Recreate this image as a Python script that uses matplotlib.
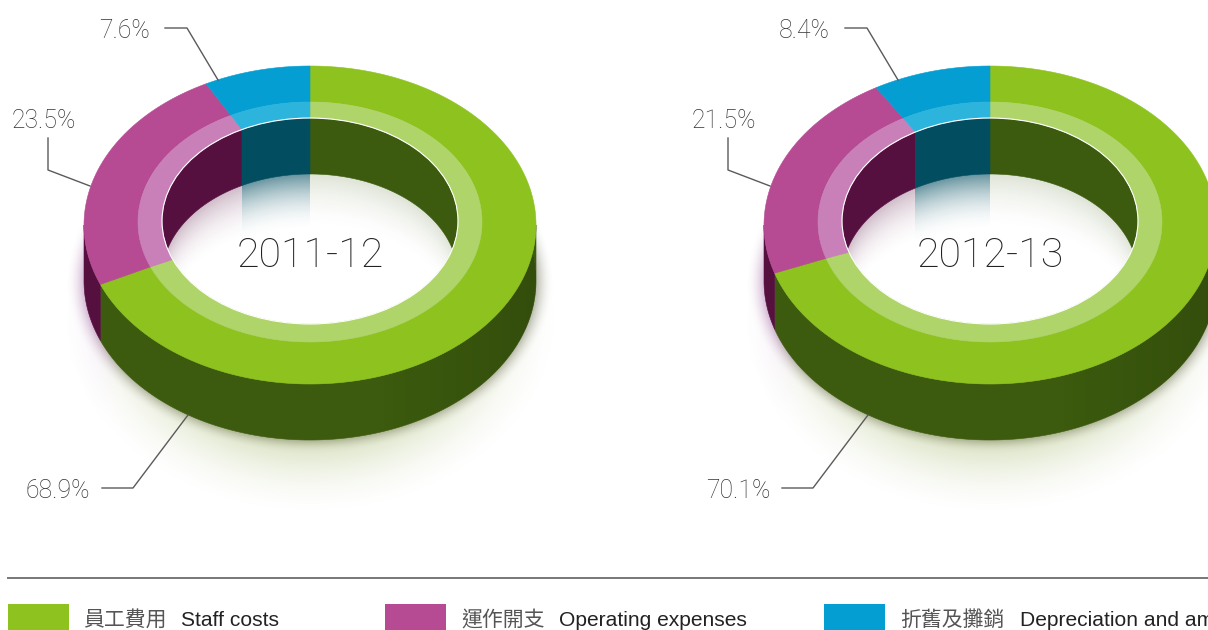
import numpy as np
import matplotlib
matplotlib.use('Agg')
import matplotlib.pyplot as plt
from matplotlib.patches import Polygon, Ellipse, Rectangle

plt.rcParams['font.family'] = ['Liberation Sans', 'Noto Sans CJK TC']

years = ['2011-12', '2012-13']
staff_costs = [68.9, 70.1]
operating_expenses = [23.5, 21.5]
depreciation = [7.6, 8.4]

names_zh = ['員工費用', '運作開支', '折舊及攤銷']
names_en = ['Staff costs', 'Operating expenses', 'Depreciation and amortisation']

# face, pale ring, outer wall, inner wall, hole shadow strength
face = ['#8dc21f', '#b64b94', '#049ed2']
ring = ['#afd469', '#c980b8', '#2cb4dc']
wall = ['#3c5b0e', '#55103f', '#024d60']
hole_fade = [0.17, 0.28, 0.6]

centers = [310, 990]
CY = 225
DEPTH = 56
RX, RY = 226, 159
RING_RX, RING_RY, RING_CY = 172, 120, 222
HOLE_RX, HOLE_RY, HOLE_CY = 148, 103, 221


def arc(cx, cy, rx, ry, a0, a1):
    # angles in degrees, clockwise from the top of the ellipse
    t = np.radians(np.linspace(a0, a1, max(int(abs(a1 - a0)) * 2, 2) + 1))
    return np.column_stack([cx + rx * np.sin(t), cy - ry * np.cos(t)])


def rgb(c):
    return np.array(matplotlib.colors.to_rgb(c))


def band(ax, cx, outer, inner, a0, a1, color, zorder):
    pts = np.vstack([arc(cx, outer[2], outer[0], outer[1], a0, a1),
                     arc(cx, inner[2], inner[0], inner[1], a1, a0)])
    ax.add_patch(Polygon(pts, fc=color, ec=color, lw=0.4, zorder=zorder))


def ground_shadow(ax, cx):
    x, y = np.meshgrid(np.arange(cx - 290, cx + 290) + 0.5, np.arange(200, 540) + 0.5)
    dx = x - cx
    # wide pale green pool under the ring
    r = np.sqrt((dx / 236) ** 2 + ((y - 318) / 186) ** 2)
    a_wide = 0.5 * np.clip((1.06 - r) / 0.42, 0, 1) ** 1.8
    # tight contact shadow hugging the wall
    r2 = np.sqrt((dx / RX) ** 2 + ((y - CY - DEPTH) / RY) ** 2)
    a_tight = 0.42 * np.clip((1.08 - r2) / 0.08, 0, 1) ** 2
    a = 1 - (1 - a_wide) * (1 - a_tight)
    img = np.ones(x.shape + (4,))
    mix = np.clip((a_tight / (a_tight + a_wide + 1e-6)), 0, 1)[..., None]
    left = np.clip((-dx - 190) / 30, 0, 1)[..., None]
    base = (1 - mix) * rgb('#a9bc74') + mix * rgb('#5a5a40')
    base = (1 - left) * base + left * rgb('#a060a0')
    img[..., :3] = base
    img[..., 3] = a
    ax.imshow(img, extent=(cx - 290, cx + 290, 540, 200), zorder=1, interpolation='bilinear')


def hole_shadow(ax, cx, stops, clip):
    x, y = np.meshgrid(np.arange(cx - HOLE_RX, cx + HOLE_RX) + 0.5,
                       np.arange(HOLE_CY - HOLE_RY, HOLE_CY + HOLE_RY) + 0.5)
    s = np.clip((x - cx) / HOLE_RX, -1, 1)
    ang = np.degrees(np.arcsin(s)) % 360
    idx = np.searchsorted(stops, ang, side='right') - 1
    idx = np.clip(idx, 0, 2)
    # how far below the bottom edge of the inner wall
    edge = HOLE_CY + DEPTH - HOLE_RY * np.sqrt(1 - s ** 2)
    d = np.clip(y - edge, 0, None)
    img = np.zeros(x.shape + (4,))
    img[..., :3] = np.array([rgb(c) for c in wall])[idx]
    img[..., 3] = np.array(hole_fade)[idx] * np.clip(1 - d / 58, 0, 1) ** 2
    im = ax.imshow(img, extent=(cx - HOLE_RX, cx + HOLE_RX, HOLE_CY + HOLE_RY, HOLE_CY - HOLE_RY),
                   zorder=4, interpolation='bilinear')
    im.set_clip_path(clip)


def wall_shade(ax, cx):
    # soft darkening toward the right end of the outer wall
    x, y = np.meshgrid(np.arange(cx - RX, cx + RX) + 0.5, np.arange(CY, CY + DEPTH + RY) + 0.5)
    img = np.zeros(x.shape + (4,))
    img[..., 3] = 0.14 * np.clip((x - cx - 70) / 150, 0, 1)
    inside = np.sqrt(((x - cx) / RX) ** 2 + ((y - CY - DEPTH) / RY) ** 2) <= 1
    img[..., 3] = img[..., 3] * inside
    ax.imshow(img, extent=(cx - RX, cx + RX, CY + DEPTH + RY, CY), zorder=2.5, interpolation='bilinear')


def draw_donut(ax, cx, shares, year):
    stops = np.concatenate([[0], np.cumsum(shares) / np.sum(shares) * 360])
    ground_shadow(ax, cx)

    # outer wall, only the front half shows
    for i in range(3):
        a0, a1 = max(stops[i], 90), min(stops[i + 1], 270)
        if a1 > a0:
            pts = np.vstack([arc(cx, CY, RX, RY, a0, a1), arc(cx, CY + DEPTH, RX, RY, a1, a0)])
            ax.add_patch(Polygon(pts, fc=wall[i], ec=wall[i], lw=0.4, zorder=2))
    wall_shade(ax, cx)

    # hole: white floor, then the far wall seen through it
    hole = Ellipse((cx, HOLE_CY), 2 * HOLE_RX, 2 * HOLE_RY, fc='white', ec='none', zorder=3)
    ax.add_patch(hole)
    hole_shadow(ax, cx, stops[:-1], hole)
    for i in range(3):
        for lo, hi in [(0, 90), (270, 360)]:
            a0, a1 = max(stops[i], lo), min(stops[i + 1], hi)
            if a1 > a0:
                pts = np.vstack([arc(cx, HOLE_CY, HOLE_RX, HOLE_RY, a0, a1),
                                 arc(cx, HOLE_CY + DEPTH, HOLE_RX, HOLE_RY, a1, a0)])
                p = Polygon(pts, fc=wall[i], ec=wall[i], lw=0.4, zorder=5)
                ax.add_patch(p)
                p.set_clip_path(hole)

    # top face with the pale inner ring
    outer = (RX, RY, CY)
    mid = (RING_RX, RING_RY, RING_CY)
    inner = (HOLE_RX, HOLE_RY, HOLE_CY)
    for i in range(3):
        band(ax, cx, outer, mid, stops[i], stops[i + 1], face[i], 6)
        band(ax, cx, mid, inner, stops[i], stops[i + 1], ring[i], 6)
    ax.add_patch(Ellipse((cx, HOLE_CY), 2 * HOLE_RX, 2 * HOLE_RY, fc='none', ec='white', lw=0.8, zorder=7))

    ax.text(cx, 252, year, fontsize=29.6, family='Roboto', fontweight='light', color='#222222',
            ha='center', va='center_baseline', zorder=8)


# (label right edge, label y, leader path) relative to the donut centre
leaders = [
    (-160, 28, [(-145, 28), (-123, 28), (-92, 80)]),
    (-234, 118, [(-262, 138), (-262, 170), (-220, 186)]),
    (-220, 488, [(-208, 488), (-177, 488), (-122, 415)]),
]
label_order = [depreciation, operating_expenses, staff_costs]

fig = plt.figure(figsize=(12.08, 6.30), dpi=100)
ax = fig.add_axes([0, 0, 1, 1])

for k, cx in enumerate(centers):
    shares = [staff_costs[k], operating_expenses[k], depreciation[k]]
    draw_donut(ax, cx, shares, years[k])
    for (tx, ty, path), series in zip(leaders, label_order):
        ax.text(cx + tx, ty, f'{series[k]}%', fontsize=17.8, family='Roboto', fontweight='light',
                color='#333333', ha='right', va='center_baseline', zorder=9)
        ax.plot([cx + p[0] for p in path], [p[1] for p in path], color='#5a5a5a', lw=1.0, zorder=9)

# rule and legend row
ax.plot([8, 1208], [578, 578], color='#777777', lw=1.4)
swatch_x = [8, 385, 824]
zh_x = [83, 461, 900]
en_x = [181, 559, 1020]
for i in range(3):
    ax.add_patch(Rectangle((swatch_x[i], 604), 61, 30, fc=face[i], ec='none'))
    ax.text(zh_x[i], 620, names_zh[i], fontsize=15, color='#555555', va='center',
            family=['Noto Sans CJK TC', 'Liberation Sans'])
    ax.text(en_x[i], 620, names_en[i], fontsize=15.1, color='#222222', va='center')

ax.set_xlim(0, 1208)
ax.set_ylim(630, 0)
ax.axis('off')
fig.savefig('out.png', dpi=100)
